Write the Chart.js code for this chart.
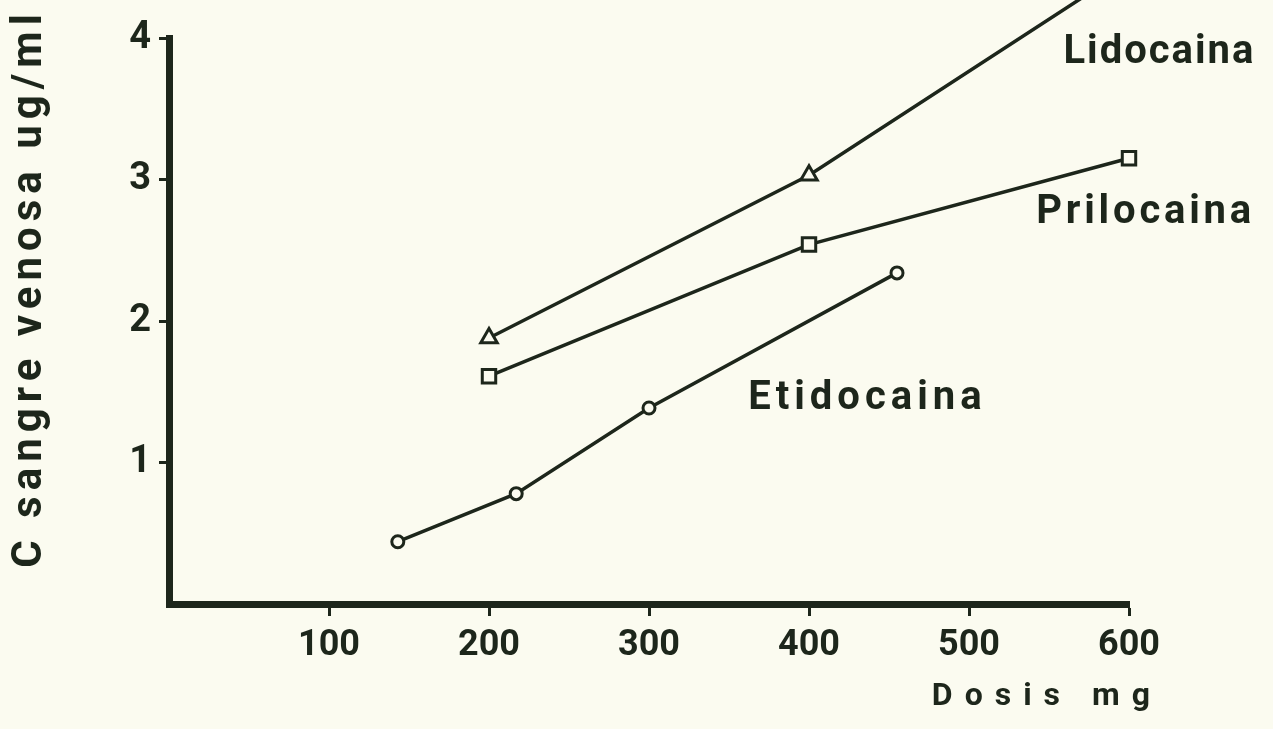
<!DOCTYPE html>
<html>
<head>
<meta charset="utf-8">
<script src="https://cdn.jsdelivr.net/npm/chart.js@4.4.1/dist/chart.umd.min.js"></script>
<style>
  html, body { margin: 0; padding: 0; background: #fbfbf0; }
  canvas { display: block; }
</style>
</head>
<body>
<canvas id="c" width="1273" height="729"></canvas>
<script>
// ---- data ----
const seriesNames = ['Lidocaina', 'Prilocaina', 'Etidocaina'];
const lidoDose = [200, 400, 600];
const lidoConc = [1.88, 3.03, 4.5];
const priloDose = [200, 400, 600];
const priloConc = [1.61, 2.54, 3.15];
const etidoDose = [143, 217, 300, 455];
const etidoConc = [0.44, 0.78, 1.385, 2.34];
const xTickValues = [100, 200, 300, 400, 500, 600];
const yTickValues = [1, 2, 3, 4];
const xTitle = 'Dosis mg';
const yTitle = 'C sangre venosa ug/ml';

const INK = '#1d261b';
const PAPER = '#fbfbf0';
const FONT = 'Roboto';

function pts(xs, ys) { return xs.map((x, i) => ({ x: x, y: ys[i] })); }

const paperPlugin = {
  id: 'paper',
  beforeDraw(chart) {
    const ctx = chart.ctx;
    ctx.save();
    ctx.fillStyle = PAPER;
    ctx.fillRect(0, 0, chart.width, chart.height);
    ctx.restore();
    // letter-spaced axis titles
    const tweaks = { x: { sp: '12px', dx: 33, dy: 0 }, y: { sp: '6px', dx: 0, dy: -33 } };
    for (const id of ['x', 'y']) {
      const s = chart.scales[id];
      if (s && !s._spaced) {
        const orig = s.drawTitle;
        const t = tweaks[id];
        s.drawTitle = function () {
          const c = this.ctx;
          c.save();
          c.letterSpacing = t.sp;
          c.translate(t.dx, t.dy);
          orig.call(this);
          c.restore();
        };
        s._spaced = true;
      }
    }
  }
};

const seriesLabelPlugin = {
  id: 'seriesLabels',
  afterDraw(chart) {
    const ctx = chart.ctx;
    const xs = chart.scales.x, ys = chart.scales.y;
    const anchors = [
      { i: 0, x: 559, y: 3.82, sp: '2px' },
      { i: 1, x: 542, y: 2.69, sp: '3.8px' },
      { i: 2, x: 362, y: 1.38, sp: '5px' }
    ];
    ctx.save();
    ctx.fillStyle = INK;
    ctx.font = 'bold 40px ' + FONT;
    ctx.textAlign = 'left';
    ctx.textBaseline = 'alphabetic';
    for (const a of anchors) {
      ctx.letterSpacing = a.sp;
      ctx.fillText(seriesNames[a.i], xs.getPixelForValue(a.x), ys.getPixelForValue(a.y));
    }
    ctx.restore();
  }
};

const common = {
  borderColor: INK,
  borderWidth: 3.5,
  pointBorderColor: INK,
  pointBackgroundColor: PAPER,
  pointBorderWidth: 3,
  fill: false,
  tension: 0,
  clip: false
};

new Chart(document.getElementById('c'), {
  type: 'line',
  data: {
    datasets: [
      Object.assign({ label: seriesNames[0], data: pts(lidoDose, lidoConc), pointStyle: 'triangle', pointRadius: 9.5 }, common),
      Object.assign({ label: seriesNames[1], data: pts(priloDose, priloConc), pointStyle: 'rect', pointRadius: 9.5 }, common),
      Object.assign({ label: seriesNames[2], data: pts(etidoDose, etidoConc), pointStyle: 'circle', pointRadius: 6 }, common)
    ]
  },
  options: {
    responsive: false,
    devicePixelRatio: 1,
    animation: false,
    events: [],
    layout: { padding: { left: 0, right: 144, top: 38, bottom: 0 } },
    plugins: { legend: { display: false }, tooltip: { enabled: false } },
    scales: {
      x: {
        type: 'linear',
        min: 0, max: 600,
        afterFit(s) { s.height = 125; },
        afterBuildTicks(s) { s.ticks = [0].concat(xTickValues).map(v => ({ value: v })); },
        grid: {
          drawOnChartArea: false, drawTicks: true, tickLength: 12, tickWidth: 3,
          tickColor: (c) => (c.tick && c.tick.value === 0) ? 'rgba(0,0,0,0)' : INK
        },
        border: { display: true, color: INK, width: 7 },
        ticks: {
          color: INK, padding: 8, maxRotation: 0, autoSkip: false,
          font: { family: FONT, size: 36, weight: 'bold' },
          callback: (v) => v === 0 ? '' : String(v)
        },
        title: {
          display: true, text: xTitle, color: INK, align: 'end',
          font: { family: FONT, size: 32, weight: 'bold' },
          padding: { top: 0, bottom: 13 }
        }
      },
      y: {
        type: 'linear',
        min: 0, max: 4,
        afterFit(s) { s.width = 169; },
        afterBuildTicks(s) { s.ticks = [0].concat(yTickValues).map(v => ({ value: v })); },
        grid: {
          drawOnChartArea: false, drawTicks: true, tickLength: 10, tickWidth: 3,
          tickColor: (c) => (c.tick && c.tick.value === 0) ? 'rgba(0,0,0,0)' : INK
        },
        border: { display: true, color: INK, width: 7 },
        ticks: {
          color: INK, padding: 8, autoSkip: false,
          font: { family: FONT, size: 38, weight: 'bold' },
          callback: (v) => v === 0 ? '' : String(v)
        },
        title: {
          display: true, text: yTitle, color: INK,
          font: { family: FONT, size: 42, weight: 'bold' },
          padding: { top: 5, bottom: 0 }
        }
      }
    }
  },
  plugins: [paperPlugin, seriesLabelPlugin]
});
</script>
</body>
</html>
